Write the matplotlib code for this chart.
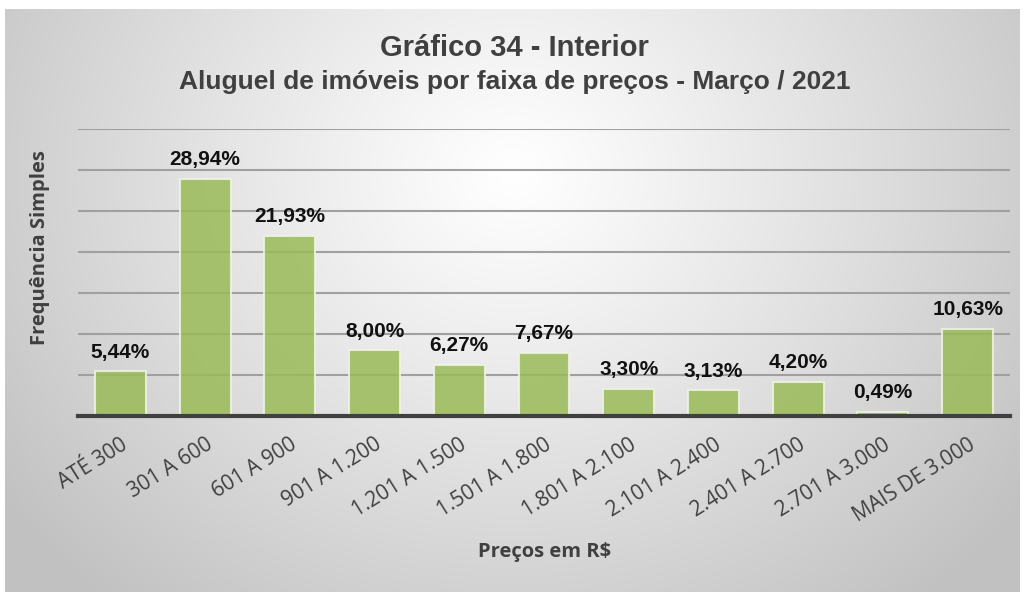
import numpy as np
import matplotlib
matplotlib.use("Agg")
import matplotlib.pyplot as plt

categories = ["ATÉ 300", "301 A 600", "601 A 900", "901 A 1.200", "1.201 A 1.500",
              "1.501 A 1.800", "1.801 A 2.100", "2.101 A 2.400", "2.401 A 2.700",
              "2.701 A 3.000", "MAIS DE 3.000"]
values = [5.44, 28.94, 21.93, 8.00, 6.27, 7.67, 3.30, 3.13, 4.20, 0.49, 10.63]
labels = ["5,44%", "28,94%", "21,93%", "8,00%", "6,27%", "7,67%", "3,30%",
          "3,13%", "4,20%", "0,49%", "10,63%"]
title = "Gráfico 34 - Interior"
subtitle = "Aluguel de imóveis por faixa de preços - Março / 2021"
xlabel = "Preços em R$"
ylabel = "Frequência Simples"

W, H = 1029, 594
fig = plt.figure(figsize=(W / 100, H / 100), dpi=100)
fig.patch.set_facecolor("white")

# background panel with radial gradient
px0, px1, py0, py1 = 5, 1020, 9, 592
bg = fig.add_axes([px0 / W, (H - py1) / H, (px1 - px0) / W, (py1 - py0) / H])
ny, nx = 300, 500
yy, xx = np.mgrid[0:ny, 0:nx]
cx, cy = nx * 0.5, ny * 0.28
d = np.sqrt(((xx - cx) / (nx * 0.62)) ** 2 + ((yy - cy) / (ny * 0.95)) ** 2)
d = np.clip(d, 0, 1)
val = 1.0 - 0.24 * d ** 1.1
img = np.dstack([val, val, val])
bg.imshow(img, aspect="auto", extent=[0, 1, 0, 1], origin="upper")
bg.set_axis_off()

ax = fig.add_axes([78 / W, (H - 416) / H, (1010 - 78) / W, (416 - 129) / H])
ax.patch.set_alpha(0)
x = np.arange(len(categories))
bars = ax.bar(x, values, width=0.6, color="#9bbb59", alpha=0.85,
              edgecolor="#eef5e2", linewidth=1.5, zorder=3)
ax.set_xlim(-0.5, len(categories) - 0.5)
ax.set_ylim(0, 35)
ax.set_yticks(np.arange(5, 36, 5))
ax.yaxis.grid(True, color="#a0a0a0", linewidth=1.5, zorder=0)
ax.tick_params(axis="y", length=0, labelleft=False)
for s in ["top", "right", "left"]:
    ax.spines[s].set_visible(False)
ax.spines["bottom"].set_color("#404040")
ax.spines["bottom"].set_linewidth(3)
ax.spines["bottom"].set_zorder(4)

ax.set_xticks(x)
ax.set_xticklabels(categories, rotation=32, ha="right", va="top", rotation_mode="anchor",
                   fontsize=15, color="#404040", family="Open Sans")
ax.tick_params(axis="x", length=0, pad=13)

for xi, v, lab in zip(x, values, labels):
    ax.annotate(lab, (xi, v), xytext=(0, 7), textcoords="offset points",
                ha="center", va="bottom", fontsize=15, fontweight="bold",
                color="#111111", family="Liberation Sans")

fig.text(0.5, (H - 48) / H, title, ha="center", va="center", fontsize=21,
         fontweight="bold", color="#404040", family="Liberation Sans")
fig.text(0.5, (H - 82) / H, subtitle, ha="center", va="center", fontsize=19,
         fontweight="bold", color="#404040", family="Liberation Sans")
fig.text(545 / W, (H - 552) / H, xlabel, ha="center", va="center", fontsize=14.5,
         fontweight="bold", color="#404040", family="Open Sans")
fig.text(40 / W, (H - 248) / H, ylabel, ha="center", va="center", fontsize=14.5,
         fontweight="bold", color="#404040", family="Open Sans", rotation=90)

fig.savefig("out.png", dpi=100)
